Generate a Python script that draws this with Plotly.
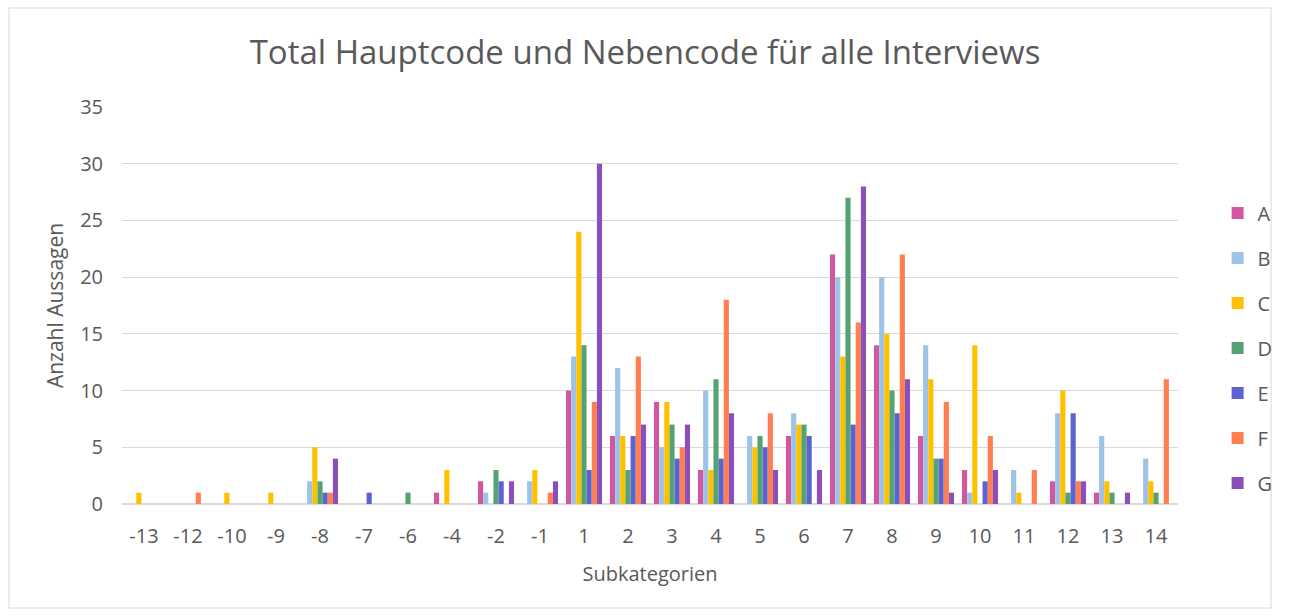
import plotly.graph_objects as go

categories = ["-13", "-12", "-10", "-9", "-8", "-7", "-6", "-4", "-2", "-1",
              "1", "2", "3", "4", "5", "6", "7", "8", "9", "10", "11", "12", "13", "14"]

A = [0, 0, 0, 0, 0, 0, 0, 1, 2, 0, 10, 6, 9, 3, 0, 6, 22, 14, 6, 3, 0, 2, 1, 0]
B = [0, 0, 0, 0, 2, 0, 0, 0, 1, 2, 13, 12, 5, 10, 6, 8, 20, 20, 14, 1, 3, 8, 6, 4]
C = [1, 0, 1, 1, 5, 0, 0, 3, 0, 3, 24, 6, 9, 3, 5, 7, 13, 15, 11, 14, 1, 10, 2, 2]
D = [0, 0, 0, 0, 2, 0, 1, 0, 3, 0, 14, 3, 7, 11, 6, 7, 27, 10, 4, 0, 0, 1, 1, 1]
E = [0, 0, 0, 0, 1, 1, 0, 0, 2, 0, 3, 6, 4, 4, 5, 6, 7, 8, 4, 2, 0, 8, 0, 0]
F = [0, 1, 0, 0, 1, 0, 0, 0, 0, 1, 9, 13, 5, 18, 8, 0, 16, 22, 9, 6, 3, 2, 0, 11]
G = [0, 0, 0, 0, 4, 0, 0, 0, 2, 2, 30, 7, 7, 8, 3, 3, 28, 11, 1, 3, 0, 2, 1, 0]

series = [("A", A, "#D2579E"), ("B", B, "#9DC3E6"), ("C", C, "#FFC000"),
          ("D", D, "#55A372"), ("E", E, "#5B63D3"), ("F", F, "#FF7F50"),
          ("G", G, "#8B4FBB")]

fig = go.Figure()
for name, vals, color in series:
    fig.add_trace(go.Bar(
        x=categories,
        y=vals,
        name=name,
        legendgroup=name,
        marker=dict(color=color, line=dict(width=0)),
        hoverinfo="x+y+name",
    ))

grey = "#595959"
fig.update_layout(
    width=1290, height=616,
    barmode="group", bargap=0.18, bargroupgap=0,
    paper_bgcolor="white", plot_bgcolor="white",
    margin=dict(l=122, r=102, t=107, b=112),
    font=dict(family="Open Sans, Liberation Sans, Arial", color=grey, size=20),
    title=dict(text="Total Hauptcode und Nebencode für alle Interviews",
               x=0.5, xanchor="center", y=1 - 52 / 616, yanchor="middle",
               font=dict(size=33, color=grey)),
    xaxis=dict(type="category", title=dict(text="Subkategorien", standoff=18, font=dict(size=20)),
               tickfont=dict(size=20), showgrid=False, showline=False, ticks="",
               ticklabelstandoff=18, zeroline=False),
    yaxis=dict(range=[0, 35], dtick=5,
               title=dict(text="Anzahl Aussagen", standoff=10, font=dict(size=21)),
               tickfont=dict(size=20), showgrid=True, gridcolor="#D9D9D9", gridwidth=1,
               zeroline=True, zerolinecolor="#D9D9D9", zerolinewidth=1.5, showline=False,
               ticks="", ticklabelstandoff=18),
    legend=dict(x=(1228 - 122) / 1066, xanchor="left", y=(504 - 348) / 397, yanchor="middle",
                font=dict(size=20, color=grey), tracegroupgap=16,
                itemwidth=30, bgcolor="rgba(0,0,0,0)"),
    shapes=[dict(type="rect", xref="paper", yref="paper",
                 x0=(8 - 122) / 1066, x1=(1282 - 122) / 1066,
                 y0=(504 - 608) / 397, y1=(504 - 8) / 397,
                 line=dict(color="#D9D9D9", width=1), fillcolor="rgba(0,0,0,0)", layer="below")],
)

fig.write_html("out.html", config={"displayModeBar": False},
               post_script="document.body.style.margin='0';")
